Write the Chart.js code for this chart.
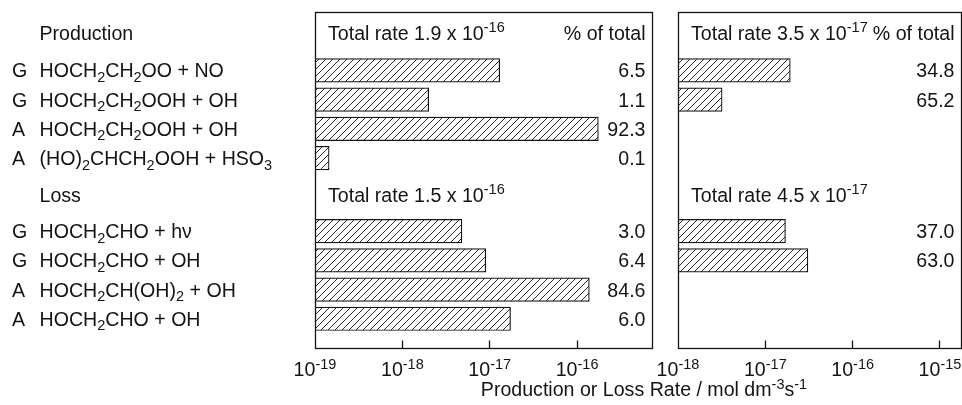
<!DOCTYPE html>
<html>
<head>
<meta charset="utf-8">
<script src="https://cdn.jsdelivr.net/npm/chart.js@4.4.1/dist/chart.umd.min.js"></script>
<style>
  html, body { margin: 0; padding: 0; background: #fff; }
  #wrap { position: relative; width: 962px; height: 405px; }
  #wrap canvas { position: absolute; left: 0; top: 0; }
</style>
</head>
<body>
<div id="wrap">
  <canvas id="gasAqueous" width="962" height="405"></canvas>
  <canvas id="gasOnly" width="962" height="405"></canvas>
</div>
<script>
// ---- reactions (G = gas phase, A = aqueous phase); "_n" = subscript, "^{..}" = superscript
const prodPhase = ['G', 'G', 'A', 'A'];
const prodReactions = [
  'HOCH_2CH_2OO + NO',
  'HOCH_2CH_2OOH + OH',
  'HOCH_2CH_2OOH + OH',
  '(HO)_2CHCH_2OOH + HSO_3'
];
const lossPhase = ['G', 'G', 'A', 'A'];
const lossReactions = [
  'HOCH_2CHO + hν',
  'HOCH_2CHO + OH',
  'HOCH_2CH(OH)_2 + OH',
  'HOCH_2CHO + OH'
];

// ---- gas + aqueous case (rates in mol dm-3 s-1)
const prodRatesA = [1.30e-17, 2.0e-18, 1.75e-16, 1.45e-19];
const prodPctA   = ['6.5', '1.1', '92.3', '0.1'];
const lossRatesA = [4.8e-18, 9.0e-18, 1.38e-16, 1.73e-17];
const lossPctA   = ['3.0', '6.4', '84.6', '6.0'];
const prodTotalA = '1.9 x 10^{-16}';
const lossTotalA = '1.5 x 10^{-16}';
const ticksA = [1e-19, 1e-18, 1e-17, 1e-16];

// ---- gas-phase-only case
const prodRatesB = [1.93e-17, 3.2e-18, null, null];
const prodPctB   = ['34.8', '65.2', '', ''];
const lossRatesB = [1.70e-17, 3.07e-17, null, null];
const lossPctB   = ['37.0', '63.0', '', ''];
const prodTotalB = '3.5 x 10^{-17}';
const lossTotalB = '4.5 x 10^{-17}';
const ticksB = [1e-18, 1e-17, 1e-16, 1e-15];

const axisTitle = 'Production or Loss Rate / mol dm^{-3}s^{-1}';

// ---- layout (row slots on a linear vertical scale, 0 at top)
const prodSlots = [2, 3, 4, 5];
const lossSlots = [7.5, 8.5, 9.5, 10.5];
const headSlots = [0.71, 6.28];
const SLOT_MAX = 11.5;

const FAMILY = '"Liberation Sans", Arial, Helvetica, sans-serif';
const MAIN = 19.6, SMALL = 14.5, SUB_DY = 4.5, SUP_DY = -8;
const INK = '#141414';

function parseRich(s) {
  const runs = [];
  let i = 0, buf = '';
  const push = (t, k) => { if (t) runs.push({ t, k }); };
  while (i < s.length) {
    const c = s[i];
    if (c === '_') {
      push(buf, 'n'); buf = '';
      let j = i + 1, d = '';
      while (j < s.length && /[0-9]/.test(s[j])) { d += s[j]; j++; }
      push(d, 'sub'); i = j;
    } else if (c === '^' && s[i + 1] === '{') {
      push(buf, 'n'); buf = '';
      const e = s.indexOf('}', i);
      push(s.slice(i + 2, e), 'sup'); i = e + 1;
    } else { buf += c; i++; }
  }
  push(buf, 'n');
  return runs;
}

function drawRich(ctx, s, x, base, align, supDy) {
  const runs = parseRich(s);
  const fontFor = k => (k === 'n' ? MAIN : SMALL) + 'px ' + FAMILY;
  let w = 0;
  runs.forEach(r => { ctx.font = fontFor(r.k); r.w = ctx.measureText(r.t).width; w += r.w; });
  let cx = align === 'right' ? x - w : align === 'center' ? x - w / 2 : x;
  ctx.textAlign = 'left';
  ctx.textBaseline = 'alphabetic';
  ctx.fillStyle = INK;
  runs.forEach(r => {
    ctx.font = fontFor(r.k);
    const dy = r.k === 'sub' ? SUB_DY : r.k === 'sup' ? (supDy !== undefined ? supDy : SUP_DY) : 0;
    ctx.fillText(r.t, cx, base + dy);
    cx += r.w;
  });
}

function hatchPattern(ctx) {
  const s = 7;
  const c = document.createElement('canvas');
  c.width = s; c.height = s;
  const g = c.getContext('2d');
  g.fillStyle = '#fff';
  g.fillRect(0, 0, s, s);
  g.strokeStyle = '#2a2a2a';
  g.lineWidth = 1;
  g.beginPath();
  g.moveTo(0, s); g.lineTo(s, 0);
  g.moveTo(-1, 1); g.lineTo(1, -1);
  g.moveTo(s - 1, s + 1); g.lineTo(s + 1, s - 1);
  g.stroke();
  return ctx.createPattern(c, 'repeat');
}

function barPoints(prodRates, lossRates) {
  const pts = [];
  prodRates.forEach((v, i) => { if (v !== null) pts.push({ x: v, y: prodSlots[i] }); });
  lossRates.forEach((v, i) => { if (v !== null) pts.push({ x: v, y: lossSlots[i] }); });
  return pts;
}

function panelPlugin(cfg) {
  return {
    id: 'panelDecor',
    afterDraw(chart) {
      const ctx = chart.ctx;
      const xs = chart.scales.x, ys = chart.scales.y;
      const a = chart.chartArea;
      const L = Math.floor(a.left) + 0.5, R = Math.floor(a.right) + 0.5;
      const T = Math.floor(a.top) + 0.5, B = Math.floor(a.bottom) + 0.5;
      ctx.save();
      // frame
      ctx.strokeStyle = INK;
      ctx.lineWidth = 1.3;
      ctx.strokeRect(L, T, R - L, B - T);
      // inward tick marks and decade labels
      cfg.ticks.forEach(v => {
        const px = xs.getPixelForValue(v);
        if (Math.abs(px - a.left) > 2) {
          const x = Math.floor(px) + 0.5;
          ctx.beginPath(); ctx.moveTo(x, B); ctx.lineTo(x, B - 8); ctx.stroke();
        }
        const exp = Math.round(Math.log10(v));
        drawRich(ctx, '10^{' + exp + '}', px, 376, 'center', -7.5);
      });
      // headers
      const textX = a.left + 13;
      const pctX = a.right - 6.5;
      const hb = headSlots.map(s => ys.getPixelForValue(s) + 7);
      drawRich(ctx, 'Total rate ' + cfg.prodTotal, textX, hb[0], 'left');
      drawRich(ctx, '% of total', pctX, hb[0], 'right');
      drawRich(ctx, 'Total rate ' + cfg.lossTotal, textX, hb[1], 'left');
      // percentages
      cfg.prodPct.forEach((p, i) => { if (p) drawRich(ctx, p, pctX, ys.getPixelForValue(prodSlots[i]) + 7, 'right'); });
      cfg.lossPct.forEach((p, i) => { if (p) drawRich(ctx, p, pctX, ys.getPixelForValue(lossSlots[i]) + 7, 'right'); });
      // reaction list and axis title
      if (cfg.withLabels) {
        drawRich(ctx, 'Production', 39.5, hb[0], 'left');
        drawRich(ctx, 'Loss', 39.5, hb[1], 'left');
        prodReactions.forEach((r, i) => {
          const yb = ys.getPixelForValue(prodSlots[i]) + 7;
          drawRich(ctx, prodPhase[i], 12, yb, 'left');
          drawRich(ctx, r, 39.5, yb, 'left');
        });
        lossReactions.forEach((r, i) => {
          const yb = ys.getPixelForValue(lossSlots[i]) + 7;
          drawRich(ctx, lossPhase[i], 12, yb, 'left');
          drawRich(ctx, r, 39.5, yb, 'left');
        });
        drawRich(ctx, axisTitle, 644, 396, 'center', -7);
      }
      ctx.restore();
    }
  };
}

function makePanel(id, cfg) {
  const el = document.getElementById(id);
  const ctx = el.getContext('2d');
  return new Chart(ctx, {
    type: 'bar',
    data: {
      datasets: [{
        data: barPoints(cfg.prodRates, cfg.lossRates),
        backgroundColor: hatchPattern(ctx),
        borderColor: INK,
        borderWidth: 1.2,
        borderSkipped: false,
        barThickness: 23.5
      }]
    },
    options: {
      indexAxis: 'y',
      responsive: false,
      animation: false,
      devicePixelRatio: 1,
      layout: { padding: cfg.padding },
      plugins: { legend: { display: false }, tooltip: { enabled: false } },
      scales: {
        x: { type: 'logarithmic', min: cfg.min, max: cfg.max, display: false },
        y: { type: 'linear', min: 0, max: SLOT_MAX, reverse: true, offset: false, display: false }
      }
    },
    plugins: [panelPlugin(cfg)]
  });
}

makePanel('gasAqueous', {
  prodRates: prodRatesA, lossRates: lossRatesA,
  prodPct: prodPctA, lossPct: lossPctA,
  prodTotal: prodTotalA, lossTotal: lossTotalA,
  ticks: ticksA, min: 1e-19, max: 7.2e-16,
  padding: { left: 315, right: 310, top: 12, bottom: 57 },
  withLabels: true
});

makePanel('gasOnly', {
  prodRates: prodRatesB, lossRates: lossRatesB,
  prodPct: prodPctB, lossPct: lossPctB,
  prodTotal: prodTotalB, lossTotal: lossTotalB,
  ticks: ticksB, min: 1e-18, max: 1.74e-15,
  padding: { left: 678, right: 1, top: 12, bottom: 57 },
  withLabels: false
});
</script>
</body>
</html>
